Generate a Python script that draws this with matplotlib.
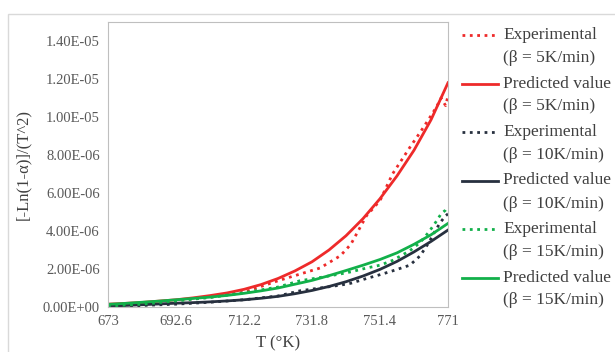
import matplotlib.pyplot as plt
from matplotlib.lines import Line2D
from matplotlib.patches import Rectangle

plt.rcParams['font.family'] = ['Liberation Serif', 'DejaVu Serif']

# temperature (K) and [-ln(1-a)]/T^2 in units of 1e-6
T_pred = [673, 677.9, 682.8, 687.7, 692.6, 697.5, 702.4, 707.3, 712.2, 717.1,
          722, 726.9, 731.8, 736.7, 741.6, 746.5, 751.4, 756.3, 761.2, 766.1,
          771]
pred_5 = [0.15, 0.19, 0.24, 0.31, 0.38, 0.48, 0.6, 0.74, 0.93, 1.18,
          1.5, 1.9, 2.38, 3.0, 3.75, 4.65, 5.7, 6.9, 8.25, 9.85,
          11.8]
pred_10 = [0.05, 0.08, 0.12, 0.16, 0.2, 0.23, 0.27, 0.32, 0.38, 0.46,
           0.56, 0.7, 0.87, 1.08, 1.33, 1.63, 1.98, 2.4, 2.9, 3.45,
           4.05]
pred_15 = [0.14, 0.19, 0.25, 0.31, 0.38, 0.45, 0.52, 0.61, 0.72, 0.85,
           1.0, 1.2, 1.4, 1.65, 1.92, 2.2, 2.5, 2.85, 3.3, 3.8,
           4.4]

T_exp = [673, 682.8, 692.6, 702.4, 712.2, 722, 728.3, 734.1, 740, 743,
         747.5, 751.4, 755, 760, 763, 765.5, 767.6, 769, 770.3, 771]
exp_5 = [0.1, 0.2, 0.35, 0.52, 0.78, 1.38, 1.73, 2.05, 2.7, 3.3,
         4.8, 5.6, 7.0, 8.4, 9.2, 9.9, 10.5, 11.0, 10.6, 11.1]
exp_10 = [0.0, 0.08, 0.15, 0.25, 0.38, 0.58, 0.85, 1.0, 1.15, 1.25,
          1.5, 1.7, 1.9, 2.2, 2.7, 3.4, 4.1, 4.5, 4.8, 4.9]
exp_15 = [0.05, 0.15, 0.32, 0.5, 0.75, 1.05, 1.38, 1.55, 1.74, 1.85,
          2.05, 2.2, 2.45, 2.96, 3.4, 3.95, 4.5, 4.9, 5.1, 5.3]

labels = ['Experimental\n(β = 5K/min)', 'Predicted value\n(β = 5K/min)',
          'Experimental\n(β = 10K/min)', 'Predicted value\n(β = 10K/min)',
          'Experimental\n(β = 15K/min)', 'Predicted value\n(β = 15K/min)']

red = '#EE2A2A'
navy = '#27303F'
green = '#12B04A'

fig = plt.figure(figsize=(6.15, 3.52), dpi=100)
fig.patches.append(Rectangle((8 / 615, -0.1), 1.1, 1 - 14 / 352 + 0.1,
                             transform=fig.transFigure, fill=False,
                             edgecolor='#D9D9D9', lw=1))
ax = fig.add_axes([108 / 615, 1 - 307 / 352, 340 / 615, 285 / 352])

scale = 1e-6
series = [
    (T_exp, exp_5, red, ':'),
    (T_pred, pred_5, red, '-'),
    (T_exp, exp_10, navy, ':'),
    (T_pred, pred_10, navy, '-'),
    (T_exp, exp_15, green, ':'),
    (T_pred, pred_15, green, '-'),
]
for x, y, c, ls in series:
    ax.plot(x, [v * scale for v in y], color=c, ls=ls, lw=2)

ax.set_xlim(673, 771)
ax.set_ylim(0, 1.5e-5)
ax.set_xticks([673, 692.6, 712.2, 731.8, 751.4, 771])
ax.set_xticklabels(['673', '692.6', '712.2', '731.8', '751.4', '771'])
ax.set_yticks([i * 2e-6 for i in range(8)])
ax.set_yticklabels(['0.00E+00', '2.00E-06', '4.00E-06', '6.00E-06',
                    '8.00E-06', '1.00E-05', '1.20E-05', '1.40E-05'])
ax.tick_params(length=0, labelsize=10.5, colors='#595959', pad=6)
for s in ax.spines.values():
    s.set_color('#BFBFBF')

ax.set_ylabel('[-Ln(1-α)]/(T^2)', fontsize=12, color='#404040', labelpad=8)
fig.text(278 / 615, 1 - 343 / 352, 'T (°K)', fontsize=12, color='#404040',
         ha='center', va='center')

# legend drawn by hand so the line sits on the first text line
for i, ((x, y, c, ls), lab) in enumerate(zip(series, labels)):
    yc = 1 - (35 + i * 48.5) / 352
    fig.add_artist(Line2D([462 / 615, 498 / 615], [yc, yc], color=c, ls=ls,
                          lw=2, transform=fig.transFigure))
    l1, l2 = lab.split('\n')
    fig.text(503 / 615, yc, l1, fontsize=12.5, color='#404040', va='center')
    fig.text(503 / 615, yc - 23 / 352, l2, fontsize=12.5, color='#404040',
             va='center')

fig.savefig('out.png', dpi=100)
